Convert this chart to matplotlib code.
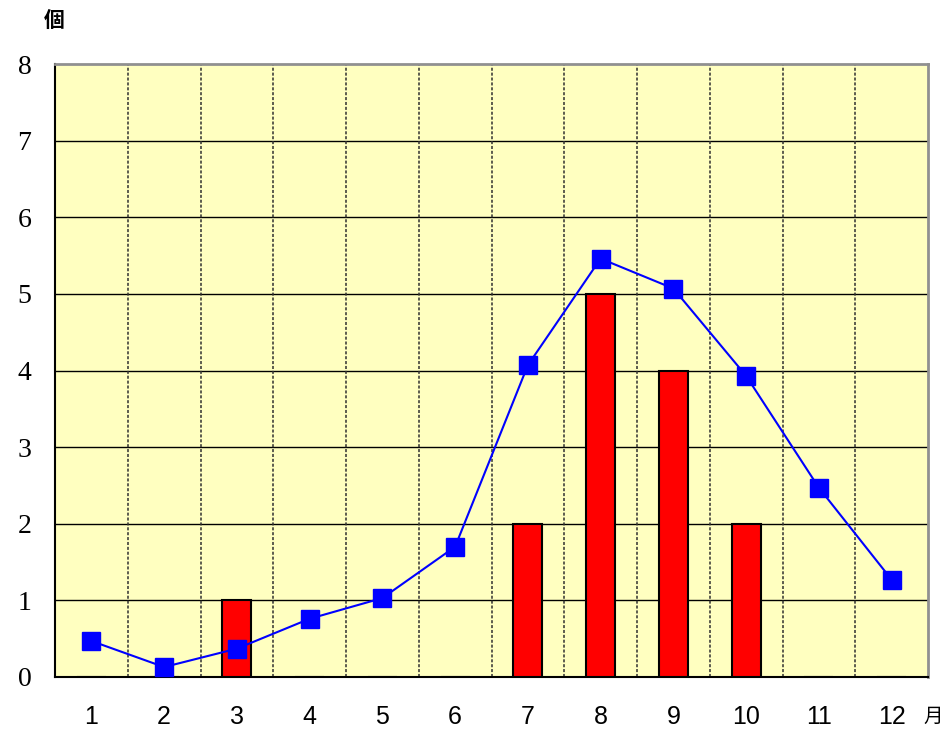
import numpy as np
import matplotlib.pyplot as plt

months = ["1", "2", "3", "4", "5", "6", "7", "8", "9", "10", "11", "12"]
bar_counts = [0, 0, 1, 0, 0, 0, 2, 5, 4, 2, 0, 0]
avg_counts = [0.47, 0.13, 0.37, 0.76, 1.03, 1.70, 4.07, 5.46, 5.07, 3.93, 2.47, 1.27]

fig = plt.figure(figsize=(9.44, 7.31), dpi=100)
ax = fig.add_axes([55 / 944, 1 - 677 / 731, (928 - 55) / 944, (677 - 64) / 731])
ax.set_facecolor("#FFFFC0")

x = np.arange(len(months))
ax.bar(x, bar_counts, width=0.4, color="#FF0000", edgecolor="black", linewidth=1.5, zorder=3)
ax.plot(x, avg_counts, color="#0000FF", lw=1.5, marker="s", markersize=13.5,
        markerfacecolor="#0000FF", markeredgecolor="#0000FF", zorder=4, clip_on=False)

ax.set_xlim(-0.5, len(months) - 0.5)
ax.set_ylim(0, 8)

# horizontal gridlines solid, vertical dotted at category boundaries
for yv in range(1, 8):
    ax.axhline(yv, color="black", lw=1, zorder=1)
for xv in np.arange(0.5, len(months) - 0.5, 1):
    ax.axvline(xv, color="#303030", lw=1.1, ls=(0, (2, 1.2)), zorder=1)

ax.set_xticks(x)
ax.set_xticklabels(months, fontsize=18, family="Liberation Sans")
ax.set_yticks(range(0, 9))
ax.set_yticklabels([str(v) for v in range(0, 9)], fontsize=20, family="Liberation Serif")
ax.tick_params(axis="both", length=0)
ax.tick_params(axis="x", pad=20)
ax.tick_params(axis="y", pad=17)

for side in ["left", "bottom"]:
    ax.spines[side].set_color("black")
    ax.spines[side].set_linewidth(1.5)
for side in ["top", "right"]:
    ax.spines[side].set_color("#909090")
    ax.spines[side].set_linewidth(2)

fig.text(54 / 944, 1 - 20 / 731, "個", fontsize=15, fontweight="bold",
         family=["Noto Sans CJK JP", "DejaVu Sans"], ha="center", va="center")
fig.text(933 / 944, 1 - 716 / 731, "月", fontsize=14,
         family=["Noto Sans CJK JP", "DejaVu Sans"], ha="center", va="center")

fig.savefig("out.png", dpi=100)
